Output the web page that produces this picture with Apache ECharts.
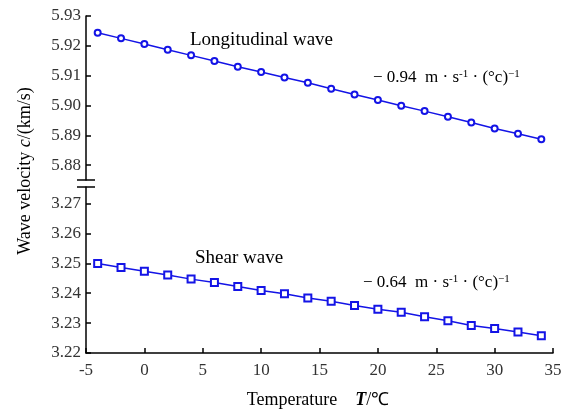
<!DOCTYPE html>
<html>
<head>
<meta charset="utf-8">
<title>Wave velocity vs temperature</title>
<script src="https://cdn.jsdelivr.net/npm/echarts@6/dist/echarts.min.js"></script>
</head>
<body style="margin:0;background:#fff">
<div id="main" style="width:574px;height:412px"></div>
<script>
// temperatures (°C) and velocities (km/s)
var temps = [-4, -2, 0, 2, 4, 6, 8, 10, 12, 14, 16, 18, 20, 22, 24, 26, 28, 30, 32, 34];
var longWave = [5.9244, 5.9225, 5.9206, 5.9187, 5.9168, 5.9149, 5.9130, 5.9112, 5.9094, 5.9076,
                5.9056, 5.9037, 5.9018, 5.8999, 5.8981, 5.8962, 5.8943, 5.8923, 5.8905, 5.8887];
var shearWave = [3.2499, 3.2486, 3.2473, 3.2461, 3.2447, 3.2436, 3.2422, 3.2409, 3.2398, 3.2384,
                 3.2373, 3.2359, 3.2346, 3.2336, 3.2321, 3.2308, 3.2292, 3.2282, 3.2270, 3.2258];
var topTicks = [5.88, 5.89, 5.90, 5.91, 5.92, 5.93];
var bottomTicks = [3.22, 3.23, 3.24, 3.25, 3.26, 3.27];

var serif = 'Liberation Serif';
var lineColor = '#1414e6';

function pairs(vals) {
  return temps.map(function (t, i) { return [t, vals[i]]; });
}

var axisFont = { fontFamily: serif, fontSize: 17, color: '#333' };

function yAxisCfg(idx, min, max, ticks) {
  return {
    type: 'value', gridIndex: idx, min: min, max: max,
    axisLine: { show: true, onZero: false, lineStyle: { color: '#000', width: 1.5 } },
    axisTick: { show: true, inside: true, length: 5, customValues: ticks, lineStyle: { color: '#000', width: 1.5 } },
    axisLabel: Object.assign({ customValues: ticks, margin: 5,
      formatter: function (v) { return v.toFixed(2); } }, axisFont),
    splitLine: { show: false }
  };
}

var sup = { fontFamily: serif, fontSize: 11, color: '#222', verticalAlign: 'top', padding: [0, 0, 8, 0] };
var base = { fontFamily: serif, fontSize: 17, color: '#222' };
var big = { fontFamily: serif, fontSize: 19, color: '#222' };

var myChart = echarts.init(document.getElementById('main'));
var option = {
  animation: false,
  grid: [
    { left: 86, right: 21, top: 16, height: 164 },
    { left: 86, right: 21, top: 187, bottom: 59 }
  ],
  xAxis: [
    { type: 'value', gridIndex: 0, min: -5, max: 35, show: false },
    {
      type: 'value', gridIndex: 1, min: -5, max: 35, interval: 5,
      axisLine: { onZero: false, lineStyle: { color: '#000', width: 1.5 } },
      axisTick: { inside: true, length: 5, lineStyle: { color: '#000', width: 1.5 } },
      axisLabel: Object.assign({ margin: 9 }, axisFont),
      splitLine: { show: false }
    }
  ],
  yAxis: [
    yAxisCfg(0, 5.875, 5.93, topTicks),
    yAxisCfg(1, 3.22, 3.2755, bottomTicks)
  ],
  series: [
    {
      name: 'Longitudinal wave', type: 'line', xAxisIndex: 0, yAxisIndex: 0,
      data: pairs(longWave), symbol: 'emptyCircle', symbolSize: 6,
      lineStyle: { color: lineColor, width: 1.5 },
      itemStyle: { color: lineColor, borderWidth: 1.5 }
    },
    {
      name: 'Shear wave', type: 'line', xAxisIndex: 1, yAxisIndex: 1,
      data: pairs(shearWave), symbol: 'emptyRect', symbolSize: 7,
      lineStyle: { color: lineColor, width: 1.5 },
      itemStyle: { color: lineColor, borderWidth: 1.5 }
    }
  ],
  graphic: [
    // axis break marks
    { type: 'line', shape: { x1: 77, y1: 180, x2: 95, y2: 180 }, style: { stroke: '#000', lineWidth: 1.5 } },
    { type: 'line', shape: { x1: 77, y1: 187, x2: 95, y2: 187 }, style: { stroke: '#000', lineWidth: 1.5 } },
    {
      type: 'text', x: 25, y: 171, rotation: Math.PI / 2,
      style: {
        text: '{n|Wave velocity }{i|c}{n|/(km/s)}', align: 'center', verticalAlign: 'middle',
        rich: { n: { fontFamily: serif, fontSize: 18, color: '#222' },
                i: { fontFamily: serif, fontSize: 18, fontStyle: 'italic', color: '#222' } }
      }
    },
    {
      type: 'text', x: 318, y: 400,
      style: {
        text: '{n|Temperature    }{i|T}{n|/℃}', align: 'center', verticalAlign: 'middle',
        rich: { n: { fontFamily: serif, fontSize: 18, color: '#222' },
                i: { fontFamily: serif, fontSize: 18, fontStyle: 'italic', fontWeight: 'bold', color: '#222' } }
      }
    },
    { type: 'text', x: 190, y: 40, style: Object.assign({ text: 'Longitudinal wave', verticalAlign: 'middle' }, big) },
    { type: 'text', x: 195, y: 258, style: Object.assign({ text: 'Shear wave', verticalAlign: 'middle' }, big) },
    {
      type: 'text', x: 373, y: 78,
      style: {
        text: '{b|− 0.94  m · s}{s|-1}{b| · (°c)}{s|−1}', verticalAlign: 'middle',
        rich: { b: base, s: sup }
      }
    },
    {
      type: 'text', x: 363, y: 283,
      style: {
        text: '{b|− 0.64  m · s}{s|-1}{b| · (°c)}{s|−1}', verticalAlign: 'middle',
        rich: { b: base, s: sup }
      }
    }
  ]
};
myChart.setOption(option);
</script>
</body>
</html>
